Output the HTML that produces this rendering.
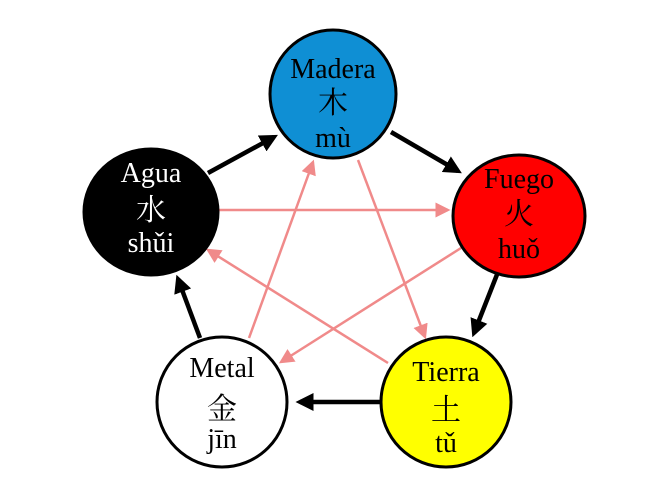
<!DOCTYPE html>
<html><head><meta charset="utf-8"><style>
html,body{margin:0;padding:0;background:#fff;}
svg{display:block;}
text{font-family:"Liberation Serif","Noto Serif CJK SC",serif;text-anchor:middle;}
.c{font-size:30px;font-family:"Noto Serif CJK SC","Noto Sans CJK SC",serif;}
</style></head><body>
<svg width="665" height="481" viewBox="0 0 665 481">
<defs>
<marker id="b" markerWidth="4" markerHeight="4" refX="3" refY="2" orient="auto"><path d="M0,0 L4,2 L0,4 z" fill="#000"/></marker>
<marker id="p" markerWidth="6" markerHeight="6" refX="5" refY="3" orient="auto"><path d="M0,0 L6,3 L0,6 z" fill="#f08a8a"/></marker>
</defs>
<g stroke="#f08a8a" stroke-width="2.5" marker-end="url(#p)">
<line x1="219" y1="210" x2="448" y2="210"/>
<line x1="461" y1="248" x2="281" y2="362"/>
<line x1="249" y1="338" x2="313" y2="162"/>
<line x1="358" y1="160" x2="425" y2="337"/>
<line x1="388" y1="363" x2="208" y2="250"/>
</g>
<g stroke="#000" stroke-width="4.5" marker-end="url(#b)">
<line x1="208" y1="173" x2="274" y2="137"/>
<line x1="391" y1="132" x2="458" y2="171"/>
<line x1="498" y1="272" x2="474" y2="333"/>
<line x1="380" y1="402" x2="300" y2="402"/>
<line x1="200" y1="338" x2="178" y2="279"/>
</g>
<g stroke="#000" stroke-width="3">
<ellipse cx="333" cy="94" rx="63" ry="64" fill="#0f8fd4"/>
<ellipse cx="519" cy="216" rx="66" ry="61" fill="#f00"/>
<ellipse cx="446" cy="402" rx="65" ry="65" fill="#ff0"/>
<ellipse cx="222" cy="402" rx="65" ry="65" fill="#fff"/>
<ellipse cx="151" cy="212" rx="67" ry="63" fill="#000"/>
</g>
<g font-size="28">
<text x="333" y="78">Madera</text><text class="c" x="333" y="113">木</text><text x="333" y="147">mù</text>
<text x="519" y="188" >Fuego</text><text class="c" x="519" y="224">火</text><text x="519" y="258">huǒ</text>
<text x="446" y="381">Tierra</text><text class="c" x="446" y="420">土</text><text x="446" y="452">tǔ</text>
<text x="222" y="377">Metal</text><text class="c" x="222" y="419">金</text><text x="222" y="448">jīn</text>
<g fill="#fff"><text x="151" y="182">Agua</text><text class="c" x="151" y="220">水</text><text x="151" y="252">shǔi</text></g>
</g>
</svg>
</body></html>
